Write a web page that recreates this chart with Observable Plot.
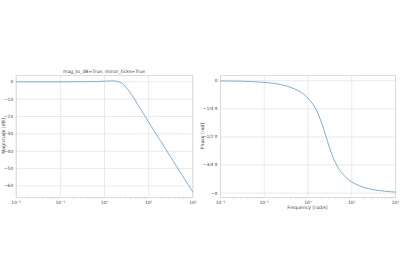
<!DOCTYPE html>
<html><head><meta charset="utf-8">
<script src="https://cdn.jsdelivr.net/npm/d3@7"></script>
<script src="https://cdn.jsdelivr.net/npm/@observablehq/plot@0.6"></script>
<style>
html,body{margin:0;padding:0;background:#fff;}
#wrap{position:relative;width:400px;height:280px;overflow:hidden;font-family:"DejaVu Sans",sans-serif;color:#444;}
.panel{position:absolute;top:0;}
.lbl{position:absolute;font-size:4.6px;white-space:nowrap;color:#444;}
</style></head>
<body><div id="wrap"></div>
<script>
// data
const freq     = [0.01, 0.0316, 0.1, 0.178, 0.316, 0.562, 0.75, 1.0, 1.33, 1.54, 1.78, 2.05, 2.37, 2.74, 3.16, 3.65, 4.22, 4.87, 5.62, 7.5, 10, 17.8, 31.6, 56.2, 100];
const magDb    = [0, 0, 0, 0.01, 0.04, 0.12, 0.21, 0.34, 0.47, 0.49, 0.40, 0.09, -0.60, -1.78, -3.46, -5.56, -7.93, -10.42, -12.96, -18.12, -23.22, -33.36, -43.37, -53.39, -63.40];
const phaseDeg = [-0.3, -0.8, -2.6, -4.6, -8.2, -14.8, -20.1, -27.6, -38.8, -46.6, -56.2, -67.5, -80.9, -95.2, -108.7, -120.8, -131.0, -139.1, -145.7, -155.4, -162.1, -170.2, -174.5, -176.9, -178.3];
const xTicks = [0.01, 0.1, 1, 10, 100];
const xTickLabels = ["10\u207B\u00B2", "10\u207B\u00B9", "10\u2070", "10\u00B9", "10\u00B2"];
const magTicks = [0, -10, -20, -30, -40, -50, -60];
const magTickLabels = ["0", "\u221210", "\u221220", "\u221230", "\u221240", "\u221250", "\u221260"];
const phaseTicks = [0, -0.25, -0.5, -0.75, -1];
const phaseTickLabels = ["0", "\u22121/4 \u03C0", "\u22121/2 \u03C0", "\u22123/4 \u03C0", "\u2212\u03C0"];
const minorMult = [2, 3, 4, 5, 6, 7, 8, 9];
const decades = [0.01, 0.1, 1, 10];

const minorTicks = decades.flatMap(d => minorMult.map(m => d * m));
const magData = freq.map((f, i) => ({f, v: magDb[i]}));
const phaseData = freq.map((f, i) => ({f, v: phaseDeg[i] / 180}));

const wrap = document.getElementById("wrap");
const W = 200, H = 280, MT = 75, MB = 83;
const lineColor = "#6aa6da";
const gridColor = "#e4e4e4";
const fmtX = d => xTickLabels[xTicks.indexOf(d)];

function panel(data, yDomain, yTicks, yLabels, ml, mr, left) {
  const chart = Plot.plot({
    width: W, height: H,
    marginLeft: ml, marginRight: mr, marginTop: MT, marginBottom: MB,
    style: {fontFamily: "DejaVu Sans, sans-serif", fontSize: "4.4px", color: "#444", background: "transparent"},
    x: {type: "log", domain: [0.01, 100]},
    y: {domain: yDomain},
    marks: [
      Plot.gridX(xTicks, {stroke: gridColor, strokeOpacity: 1, strokeWidth: 0.8}),
      Plot.gridY(yTicks, {stroke: gridColor, strokeOpacity: 1, strokeWidth: 0.8}),
      Plot.frame({stroke: "#d6d6d6", strokeWidth: 0.8}),
      Plot.axisX(minorTicks, {tickSize: 1.5, stroke: "#cfcfcf", tickFormat: () => "", label: null}),
      Plot.axisX(xTicks, {tickSize: 0, tickPadding: 3, tickFormat: fmtX, label: null, fill: "#444"}),
      Plot.axisY(yTicks, {tickSize: 0, tickPadding: 3, tickFormat: d => yLabels[yTicks.indexOf(d)], label: null, fill: "#444"}),
      Plot.line(data, {x: "f", y: "v", stroke: lineColor, strokeWidth: 0.9, curve: "catmull-rom"})
    ]
  });
  const div = document.createElement("div");
  div.className = "panel";
  div.style.left = left + "px";
  div.appendChild(chart);
  wrap.appendChild(div);
}

panel(magData, [-66.6, 3.6], magTicks, magTickLabels, 15.7, 7.7, 0);
panel(phaseData, [-1.039, 0.047], phaseTicks, phaseTickLabels, 20, 5, 200);

function label(text, x, y, rotate) {
  const el = document.createElement("div");
  el.className = "lbl";
  el.textContent = text;
  el.style.left = x + "px";
  el.style.top = y + "px";
  el.style.transform = "translate(-50%,-50%)" + (rotate ? " rotate(-90deg)" : "");
  wrap.appendChild(el);
}
label("mag_to_dB=True, minor_ticks=True", 104, 71, false);
label("Magnitude [dB]", 3, 136, true);
label("Phase [rad]", 202, 136, true);
label("Frequency [rad/s]", 307.5, 207, false);
</script></body></html>
